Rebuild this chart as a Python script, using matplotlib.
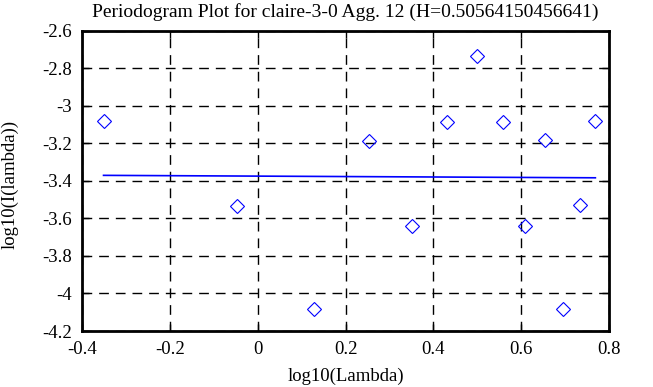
import matplotlib
matplotlib.use("Agg")
import matplotlib.pyplot as plt

# periodogram points
log_lambda = [-0.351, -0.048, 0.128, 0.254, 0.351, 0.432, 0.499,
              0.558, 0.608, 0.654, 0.696, 0.735, 0.769]
log_I = [-3.080, -3.532, -4.084, -3.185, -3.640, -3.084, -2.733,
         -3.084, -3.640, -3.183, -4.084, -3.530, -3.080]

# fitted line end points
fit_x = [-0.351, 0.769]
fit_y = [-3.370, -3.383]

xticks = [-0.4, -0.2, 0, 0.2, 0.4, 0.6, 0.8]
xtick_labels = ["-0.4", "-0.2", "0", "0.2", "0.4", "0.6", "0.8"]
yticks = [-4.2, -4.0, -3.8, -3.6, -3.4, -3.2, -3.0, -2.8, -2.6]
ytick_labels = ["-4.2", "-4", "-3.8", "-3.6", "-3.4", "-3.2", "-3", "-2.8", "-2.6"]

plt.rcParams['font.family'] = ['Liberation Serif', 'DejaVu Serif']

fig = plt.figure(figsize=(6.53, 3.87), dpi=100)
ax = fig.add_axes([0.1256, 0.1447, 0.807, 0.7753])

ax.plot(log_lambda, log_I, linestyle='none', marker='D', markersize=7.3,
        markerfacecolor='none', markeredgecolor='blue', markeredgewidth=0.8)
ax.plot(fit_x, fit_y, color='blue', linewidth=1.2)

ax.set_xlim(-0.4, 0.8)
ax.set_ylim(-4.2, -2.6)
ax.set_xticks(xticks, xtick_labels)
ax.set_yticks(yticks, ytick_labels)
ax.grid(True, color='black', linestyle=(0, (7, 5)), linewidth=1)
ax.tick_params(direction='in', length=5, width=1, top=True, right=True,
               labelsize=13.5)
ax.tick_params(axis='y', pad=7)
ax.tick_params(axis='x', pad=7)
for s in ax.spines.values():
    s.set_linewidth(2)

ax.set_xlabel("log10(Lambda)", fontsize=13.5)
ax.xaxis.set_label_coords(0.5, -0.122)
ax.set_ylabel("log10(I(lambda))", fontsize=13.5)
ax.yaxis.set_label_coords(-0.12, 0.49)
fig.text(0.5293, 0.957, "Periodogram Plot for claire-3-0 Agg. 12 (H=0.50564150456641)",
         fontsize=14, ha='center', va='baseline')

fig.savefig("out.png", dpi=100)
